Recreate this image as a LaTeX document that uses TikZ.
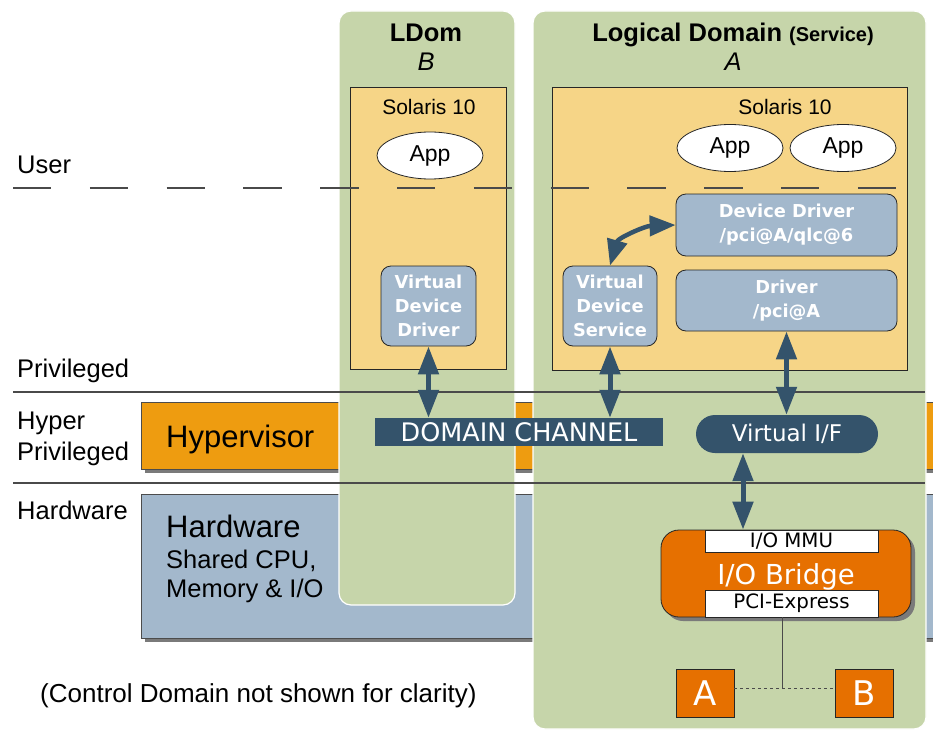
\documentclass[tikz,border=0pt]{standalone}
\usepackage{fontspec}
\setmainfont{Liberation Sans}
\newfontfamily\dvs{DejaVu Sans}
\usetikzlibrary{arrows.meta,shapes.geometric}
\definecolor{panelgreen}{HTML}{C6D5AA}
\definecolor{solyellow}{HTML}{F6D587}
\definecolor{boxblue}{HTML}{A3B8CC}
\definecolor{darkblue}{HTML}{34536B}
\definecolor{hvorange}{HTML}{EE9C10}
\definecolor{brorange}{HTML}{E67000}
\definecolor{linegray}{HTML}{4A4A4A}
\definecolor{shadowgray}{HTML}{7A7A7A}
\newcommand\fs[2]{\fontsize{#1}{#2}\selectfont}
\begin{document}
\begin{tikzpicture}[x=1pt,y=-1pt,
  panel/.style={fill=panelgreen, draw=white, line width=1.2pt, rounded corners=12pt},
  solbox/.style={fill=solyellow, draw=black!85, line width=0.8pt},
  bbox/.style={fill=boxblue, draw=black!85, line width=0.8pt, rounded corners=10pt, text=white,
     font=\dvs\bfseries\fs{17.8}{24}, align=center, inner sep=0pt},
  app/.style={ellipse, fill=white, draw=black!85, line width=0.8pt, minimum width=106pt,
     minimum height=47pt, inner sep=0pt, font=\fs{23}{23}},
  darr/.style={draw=darkblue, line width=5pt,
     {Triangle[length=28pt,width=20pt]}-{Triangle[length=28pt,width=20pt]}},
  lbl/.style={anchor=base west, font=\fs{25.5}{30}, inner sep=0pt},
  bar/.style={draw=black!70, line width=0.8pt},
  wbox/.style={fill=white, draw=black!85, line width=0.8pt, inner sep=0pt, font=\dvs\fs{19.8}{19.8}},
  letterbox/.style={fill=brorange, draw=black!85, line width=0.8pt, minimum width=58pt,
     minimum height=48pt, inner sep=0pt, text=white, font=\dvs\fs{34}{34}},
]
\useasboundingbox (0,0) rectangle (933,730);
\clip (0,0) rectangle (933,730);
\fill[white] (0,0) rectangle (933,730);

% bars
\fill[shadowgray] (145,406) rectangle (945,473);
\path[bar, fill=hvorange] (141,402) rectangle (940,469);
\fill[shadowgray] (145,498) rectangle (945,642);
\path[bar, fill=boxblue] (141,494) rectangle (940,638);
\node[anchor=base west, inner sep=0pt, font=\fs{31}{31}] (hvtext) at (166,447) {Hypervisor};
\node[anchor=base west, inner sep=0pt, font=\fs{31}{31}] (hwtext) at (166,537) {Hardware};
\node[anchor=base west, inner sep=0pt, font=\fs{25.5}{30}] (hwtext2) at (166,568) {Shared CPU,};
\node[anchor=base west, inner sep=0pt, font=\fs{25.5}{30}] (hwtext3) at (166,597) {Memory \& I/O};

% panels
\path[panel] (339,11) rectangle (515,605);
\path[panel] (533,11) rectangle (926,729);

% titles
\node[anchor=base, inner sep=0pt, font=\bfseries\fs{25.5}{30}] (tb) at (426,42) {LDom};
\node[anchor=base, inner sep=0pt, font=\itshape\fs{25.5}{30}] (tbl) at (426,71) {B};
\node[anchor=base, inner sep=0pt, font=\bfseries\fs{25.5}{30}] (ta) at (733,42) {Logical Domain {\fs{20}{20}(Service)}};
\node[anchor=base, inner sep=0pt, font=\itshape\fs{25.5}{30}] (tal) at (733,71) {A};

% Solaris boxes
\path[solbox] (350,87) rectangle (506,369);
\path[solbox] (552,87) rectangle (907,370);
\node[anchor=base, inner sep=0pt, font=\fs{21}{21}] (solb) at (429,115) {Solaris 10};
\node[anchor=base, inner sep=0pt, font=\fs{21}{21}] (sola) at (785,115) {Solaris 10};

% level lines
\draw[linegray, line width=1.3pt, dash pattern=on 38.4pt off 38.4pt] (13,188) -- (896,188);
\draw[linegray, line width=1.2pt] (13,392) -- (925,392);
\draw[linegray, line width=1.2pt] (13,483) -- (925,483);

% level labels
\node[lbl] (luser) at (17,174) {User};
\node[lbl] (lpriv) at (17,377) {Privileged};
\node[lbl] (lhyp1) at (17,429) {Hyper};
\node[lbl] (lhyp2) at (17,460) {Privileged};
\node[lbl] (lhw) at (17,519) {Hardware};
\node[anchor=base west, inner sep=0pt, font=\fs{26}{30}] (note) at (40,702) {(Control Domain not shown for clarity)};

% apps
\node[app] (appb) at (430,155.5) {App};
\node[app] (appa1) at (730,148) {App};
\node[app] (appa2) at (843,148) {App};

% blue boxes
\node[bbox, minimum width=95pt, minimum height=80pt] (vdd) at (428.5,306) {Virtual\\Device\\Driver};
\node[bbox, minimum width=94pt, minimum height=80pt] (vds) at (610,306) {Virtual\\Device\\Service};
\node[bbox, minimum width=221pt, minimum height=62pt] (dd) at (786.5,225) {Device Driver\\/pci@A/qlc@6};
\node[bbox, minimum width=221pt, minimum height=61pt] (drv) at (786.5,300.5) {Driver\\/pci@A};

% channel and virtual if
\node[fill=darkblue, minimum width=288pt, minimum height=28pt, inner sep=0pt, text=white,
  font=\dvs\fs{25.5}{25.5}] (dc) at (519,432) {DOMAIN CHANNEL};
\node[fill=darkblue, rounded corners=19pt, minimum width=182pt, minimum height=38pt, inner sep=0pt,
  text=white, font=\dvs\fs{23}{23}] (vif) at (787,434) {Virtual I/F};

% I/O bridge
\fill[shadowgray, rounded corners=18pt] (665,534) rectangle (915,621);
\node[fill=brorange, draw=black!85, line width=0.8pt, rounded corners=18pt, minimum width=250pt,
  minimum height=87pt, inner sep=0pt] (bridge) at (786,573.5) {};
\node[anchor=base, inner sep=0pt, text=white, font=\dvs\fs{27.5}{27.5}] (brtext) at (786,584) {I/O Bridge};
\node[wbox, minimum width=173pt, minimum height=22pt] (iommu) at (791.5,541) {I/O MMU};
\node[wbox, minimum width=173pt, minimum height=27pt] (pcie) at (791.5,603.5) {PCI-Express};

% A and B
\node[letterbox] (ca) at (705,693) {A};
\node[letterbox] (cb) at (864,693) {B};
\coordinate (jn) at (782,688);
\draw[linegray, line width=1pt] (pcie.south -| jn) -- (jn);
\draw[linegray, line width=1pt, dashed] (ca.east |- jn) -- (cb.west |- jn);

% arrows
\draw[darr] (vdd.south) -- (vdd.south |- dc.north);
\draw[darr] (vds.south) -- (vds.south |- dc.north);
\draw[darr] (drv.south) -- (drv.south |- vif.north);
\draw[darr] (vif.south -| 743,0) -- (iommu.north -| 743,0);
\draw[draw=darkblue, line width=4.5pt,
  {Triangle[length=26pt,width=20pt]}-{Triangle[length=26pt,width=20pt]}]
  (vds.north) .. controls (618,238) and (645,226) .. (dd.west);
\end{tikzpicture}
\end{document}
